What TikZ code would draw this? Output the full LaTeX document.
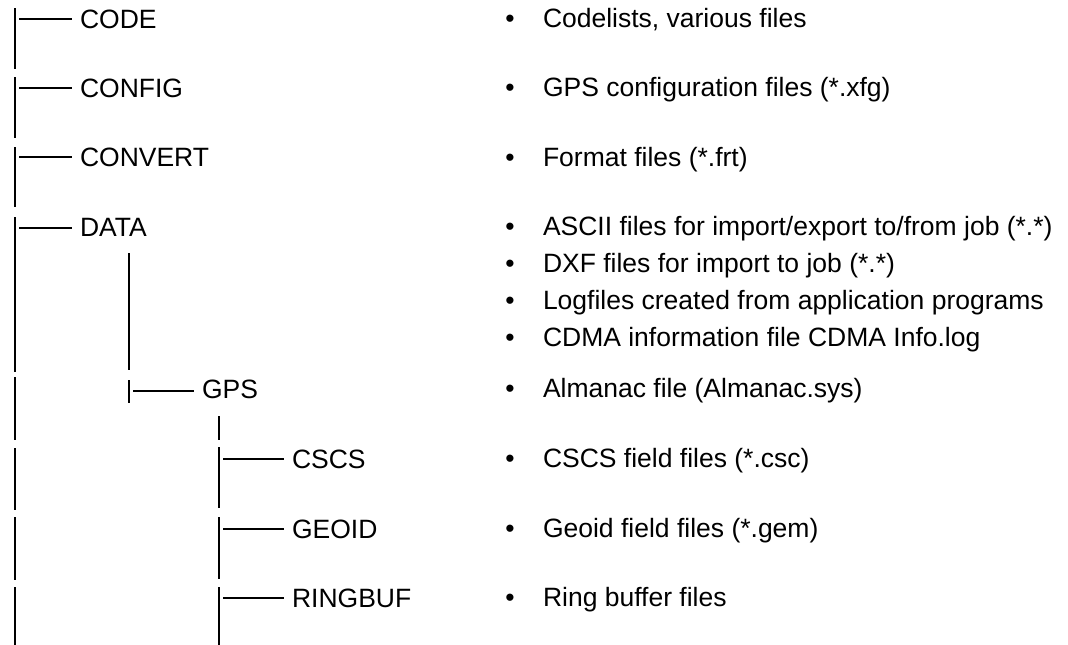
\documentclass[tikz,border=0pt]{standalone}
\usepackage{fontspec}
\setmainfont{Liberation Sans}
\begin{document}
\begin{tikzpicture}[x=1pt,y=-1pt,
  every node/.style={inner sep=0pt,outer sep=0pt,font=\fontsize{26.5}{30}\selectfont},
  lbl/.style={anchor=base west},
  bul/.style={anchor=base},
  trunk/.style={line width=1.7pt,black},
  branch/.style={line width=1.4pt,black,shorten >=8pt}]
\useasboundingbox (0,0) rectangle (1068,645);
% folder labels
\node[lbl] (code) at (80,28.5) {CODE};
\node[lbl] (config) at (80,97.5) {CONFIG};
\node[lbl] (convert) at (80,166.5) {CONVERT};
\node[lbl] (data) at (80,236) {DATA};
\node[lbl] (gps) at (202,398.5) {GPS};
\node[lbl] (cscs) at (292,468) {CSCS};
\node[lbl] (geoid) at (292,538) {GEOID};
\node[lbl] (ringbuf) at (292,607) {RINGBUF};
% descriptions
\foreach \n/\y/\t in {d1/27.5/{Codelists, various files},
  d2/96.5/{GPS configuration files (*.xfg)},
  d3/166/{Format files (*.frt)},
  d4/235.5/{ASCII files for import/export to/from job (*.*)},
  d5/272.5/{DXF files for import to job (*.*)},
  d6/309.5/{Logfiles created from application programs},
  d7/346.5/{CDMA information file CDMA Info.log},
  d8/397.5/{Almanac file (Almanac.sys)},
  d9/467.5/{CSCS field files (*.csc)},
  d10/537.5/{Geoid field files (*.gem)},
  d11/606.5/{Ring buffer files}}{
  \node[bul] (b\n) at (510,\y) {•};
  \node[lbl] (\n) at (543,\y) {\t};
}
% vertical bars
\foreach \x/\a/\b in {15/8/69, 15/77/138, 15/147/207, 15/217/372, 15/377/440,
  15/448/510, 15/517/580, 15/587/645,
  129/253/370, 129/380/403,
  219/416/440, 219/447/508, 219/517/579, 219/587/645}{
  \coordinate (vs) at (\x,\a);
  \coordinate (ve) at (\x,\b);
  \draw[trunk] (vs) -- (ve);
}
% branches
\coordinate (jcode) at (19,19);
\coordinate (jconfig) at (19,88);
\coordinate (jconvert) at (19,157);
\coordinate (jdata) at (19,228);
\coordinate (jgps) at (133,391);
\coordinate (jcscs) at (223,459);
\coordinate (jgeoid) at (223,529);
\coordinate (jringbuf) at (223,598);
\foreach \n in {code,config,convert,data,gps,cscs,geoid,ringbuf}{
  \draw[branch] (j\n) -- (j\n -| \n.west);
}
\end{tikzpicture}
\end{document}
